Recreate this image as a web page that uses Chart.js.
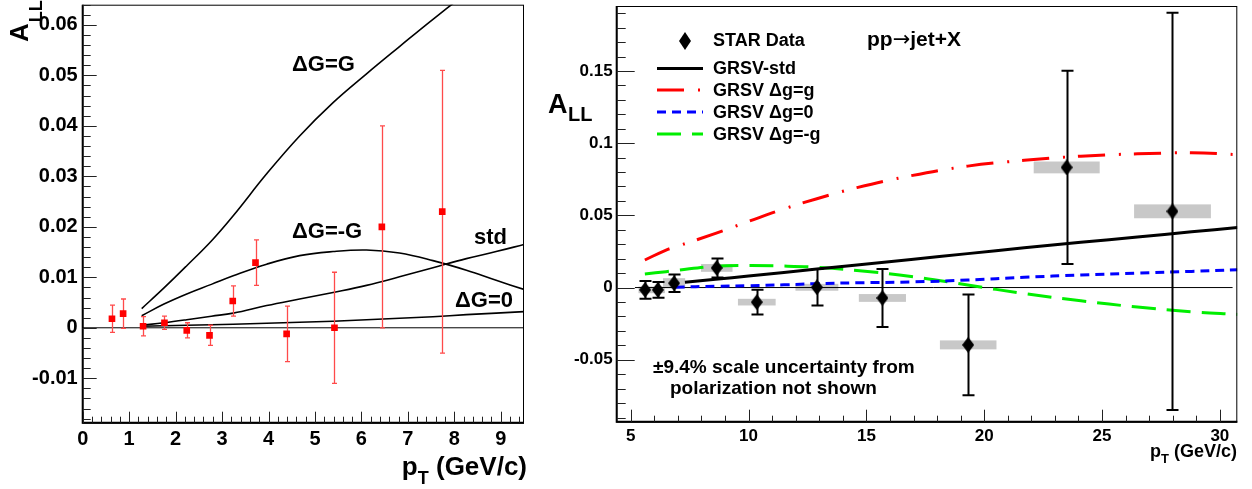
<!DOCTYPE html>
<html>
<head>
<meta charset="utf-8">
<script src="https://cdn.jsdelivr.net/npm/chart.js@4.4.1/dist/chart.umd.min.js"></script>
<style>
body { margin: 0; background: #fff; }
#left { position: absolute; left: 0; top: 0; width: 540px; height: 489px; }
#right { position: absolute; left: 540px; top: 0; width: 712px; height: 489px; }
</style>
</head>
<body>
<div id="left"><canvas id="leftChart"></canvas></div>
<div id="right"><canvas id="rightChart"></canvas></div>
<script>
var FONT = "'Liberation Sans', Arial, sans-serif";

// ---- left panel: A_LL vs pT
var leftPt = [0.63, 0.87, 1.30, 1.76, 2.24, 2.73, 3.23, 3.72, 4.39, 5.42, 6.44, 7.74];
var leftAll = [0.0018, 0.0028, 0.0003, 0.0010, -0.0005, -0.0015, 0.0053, 0.0129, -0.0012, 0.0000, 0.0200, 0.0230];
var leftErr = [0.0027, 0.0029, 0.0019, 0.0013, 0.0015, 0.0020, 0.0030, 0.0045, 0.0055, 0.0110, 0.0200, 0.0280];

var curveX = [1.27, 1.75, 2.24, 2.77, 3.24, 3.96, 4.67, 5.39, 6.11, 6.82, 7.54, 8.26, 8.9, 9.5];
var dgG = [0.0038, 0.0079, 0.0123, 0.0172, 0.0222, 0.0305, 0.0380, 0.0446, 0.0503, 0.0557, 0.0611, 0.0662, 0.0700, 0.0730];
var dgMinusG = [0.0024, 0.0047, 0.0067, 0.0086, 0.0103, 0.0126, 0.0143, 0.0151, 0.0154, 0.0148, 0.0133, 0.0114, 0.0094, 0.0076];
var dgStd = [0.0005, 0.0010, 0.0016, 0.0023, 0.0029, 0.0044, 0.0057, 0.0070, 0.0084, 0.0101, 0.0119, 0.0137, 0.0151, 0.0165];
var dgZero = [0.0003, 0.0004, 0.0005, 0.0006, 0.0007, 0.0009, 0.0011, 0.0013, 0.0016, 0.0019, 0.0022, 0.0026, 0.0029, 0.0032];

var leftXTicks = [0, 1, 2, 3, 4, 5, 6, 7, 8, 9];
var leftYTicks = [-0.01, 0, 0.01, 0.02, 0.03, 0.04, 0.05, 0.06];

// ---- right panel: STAR jets
var starPt = [5.61, 6.15, 6.84, 8.65, 10.35, 12.9, 15.68, 19.32, 23.5, 27.99];
var starAll = [-0.0016, -0.0016, 0.0030, 0.0136, -0.0101, 0.0002, -0.0072, -0.0397, 0.0832, 0.0528];
var starStat = [0.0061, 0.0054, 0.0060, 0.0066, 0.0085, 0.0126, 0.0201, 0.0349, 0.0669, 0.1376];
var starSys = [0.0023, 0.0023, 0.0035, 0.0027, 0.0023, 0.0024, 0.0027, 0.0031, 0.0041, 0.0048];
var starBinHalf = [0.28, 0.30, 0.47, 0.67, 0.80, 0.91, 1.00, 1.20, 1.40, 1.63];

var grsvX = [5.6, 6.5, 6.9, 8.6, 10, 11.5, 12.9, 14.6, 16.9, 19.3, 21.7, 24.1, 26.5, 28.8, 30.75];
var grsvMax = [0.0191, 0.0260, 0.0282, 0.0375, 0.0458, 0.0545, 0.0615, 0.0692, 0.0775, 0.0841, 0.0881, 0.0910, 0.0926, 0.0933, 0.0921];
var grsvZero = [null, null, 0.0003, 0.0009, 0.0013, 0.0019, 0.0027, 0.0033, 0.0039, 0.0052, 0.0071, 0.0087, 0.0100, 0.0112, 0.0124];
var grsvMin = [0.0094, 0.0110, 0.0118, 0.0148, 0.0153, 0.0149, 0.0140, 0.0118, 0.0077, 0.0018, -0.0042, -0.0092, -0.0135, -0.0168, -0.0186];
var grsvStdX = [7.3, 8.6, 10, 11.5, 12.9, 14.6, 16.9, 19.3, 21.7, 24.1, 26.5, 28.8, 30.75];
var grsvStd = [0.0036, 0.0057, 0.0080, 0.0105, 0.0129, 0.0157, 0.0195, 0.0235, 0.0275, 0.0313, 0.0350, 0.0386, 0.0416];

var rightXTicks = [5, 10, 15, 20, 25, 30];
var rightYTicks = [-0.05, 0, 0.05, 0.1, 0.15];

function pts(xs, ys) {
    return xs.map(function (x, i) { return { x: x, y: ys[i] }; });
}
function num(v) { return String(parseFloat(v.toFixed(4))); }

function diamond(w, h) {
    var c = document.createElement('canvas');
    c.width = w; c.height = h;
    var g = c.getContext('2d');
    g.fillStyle = '#000';
    g.beginPath();
    g.moveTo(w / 2, 0); g.lineTo(w, h / 2); g.lineTo(w / 2, h); g.lineTo(0, h / 2);
    g.closePath(); g.fill();
    return c;
}

// ROOT style frame with ticks pointing inside
var rootFrame = {
    id: 'rootFrame',
    afterDatasetsDraw: function (chart, args, o) {
        var ctx = chart.ctx, a = chart.chartArea, xs = chart.scales.x, ys = chart.scales.y;
        ctx.save();
        ctx.strokeStyle = '#000';
        ctx.lineWidth = 1;
        ctx.strokeRect(a.left, a.top + 0.5, a.right - a.left - 0.5, a.bottom - a.top);
        ctx.lineWidth = 2;
        ctx.beginPath();
        ctx.moveTo(a.left, a.top); ctx.lineTo(a.left, a.bottom); ctx.lineTo(a.right, a.bottom);
        ctx.stroke();
        ctx.lineWidth = 1;
        ctx.strokeStyle = '#222';
        ctx.beginPath();
        function yt(step, len) {
            for (var i = Math.ceil(ys.min / step - 1e-6); i * step <= ys.max + 1e-9; i++) {
                var p = Math.round(ys.getPixelForValue(i * step)) + 0.5;
                ctx.moveTo(a.left, p); ctx.lineTo(a.left + len, p);
            }
        }
        function xt(step, len) {
            for (var i = Math.ceil(xs.min / step - 1e-6); i * step <= xs.max + 1e-9; i++) {
                var p = Math.round(xs.getPixelForValue(i * step)) + 0.5;
                ctx.moveTo(p, a.bottom); ctx.lineTo(p, a.bottom - len);
            }
        }
        yt(o.yMinor, o.yMinorLen); yt(o.yMajor, o.yMajorLen);
        xt(o.xMinor, o.xMinorLen); xt(o.xMajor, o.xMajorLen);
        ctx.stroke();
        ctx.restore();
    }
};

// systematic boxes + error bars
var errorBars = {
    id: 'errorBars',
    beforeDatasetsDraw: function (chart) {
        var ctx = chart.ctx, xs = chart.scales.x, ys = chart.scales.y, a = chart.chartArea;
        chart.data.datasets.forEach(function (ds) {
            if (!ds.sysErr) return;
            ctx.save();
            ctx.beginPath(); ctx.rect(a.left, a.top, a.right - a.left, a.bottom - a.top); ctx.clip();
            ctx.fillStyle = '#c8c8c8';
            ds.data.forEach(function (d, i) {
                var x0 = xs.getPixelForValue(d.x - ds.binHalf[i]), x1 = xs.getPixelForValue(d.x + ds.binHalf[i]);
                var y0 = ys.getPixelForValue(d.y + ds.sysErr[i]), y1 = ys.getPixelForValue(d.y - ds.sysErr[i]);
                ctx.fillRect(x0, y0, x1 - x0, y1 - y0);
            });
            ctx.restore();
        });
    },
    beforeDatasetDraw: function (chart, args) {
        var ds = chart.data.datasets[args.index];
        if (!ds.errors) return;
        var ctx = chart.ctx, xs = chart.scales.x, ys = chart.scales.y, a = chart.chartArea;
        ctx.save();
        ctx.beginPath(); ctx.rect(a.left, a.top, a.right - a.left, a.bottom - a.top); ctx.clip();
        ctx.strokeStyle = ds.errorColor;
        ctx.lineWidth = ds.errorWidth;
        ctx.beginPath();
        ds.data.forEach(function (d, i) {
            var px = Math.round(xs.getPixelForValue(d.x)) + 0.5;
            var hi = ys.getPixelForValue(d.y + ds.errors[i]), lo = ys.getPixelForValue(d.y - ds.errors[i]);
            ctx.moveTo(px, hi); ctx.lineTo(px, lo);
            ctx.moveTo(px - ds.capHalf, hi); ctx.lineTo(px + ds.capHalf, hi);
            ctx.moveTo(px - ds.capHalf, lo); ctx.lineTo(px + ds.capHalf, lo);
        });
        ctx.stroke();
        ctx.restore();
    }
};

function curve(xs, ys, color, width, dash) {
    return {
        data: pts(xs, ys), borderColor: color, borderWidth: width, borderDash: dash || [],
        pointRadius: 0, fill: false, tension: 0.4, order: 1
    };
}
function zeroLine(x0, x1) {
    return { data: [{ x: x0, y: 0 }, { x: x1, y: 0 }], borderColor: '#000', borderWidth: 1, pointRadius: 0, order: 2 };
}
function axis(min, max, ticks, size, pad, fixed) {
    return {
        type: 'linear', min: min, max: max,
        grid: { display: false, drawTicks: false }, border: { display: false },
        afterBuildTicks: function (s) { s.ticks = ticks.map(function (v) { return { value: v }; }); },
        ticks: { font: { family: FONT, weight: 'bold', size: size }, color: '#000', padding: pad, callback: num, maxRotation: 0, autoSkip: false },
        afterFit: function (s) {
            if (s.isHorizontal()) s.height = fixed; else s.width = fixed;
            s.paddingTop = 0; s.paddingBottom = 0; s.paddingLeft = 0; s.paddingRight = 0;
        }
    };
}

Chart.defaults.font.family = FONT;

// left chart
var leftText = {
    id: 'leftText',
    afterDraw: function (chart) {
        var ctx = chart.ctx;
        ctx.save();
        ctx.fillStyle = '#000';
        ctx.textAlign = 'left';
        ctx.textBaseline = 'middle';
        ctx.font = 'bold 22px ' + FONT;
        ctx.fillText('\u0394G=G', 292, 65);
        ctx.fillText('\u0394G=-G', 292, 232);
        ctx.fillText('std', 474, 238);
        ctx.fillText('\u0394G=0', 455, 301);
        // y title
        ctx.textBaseline = 'alphabetic';
        ctx.translate(28, 42);
        ctx.rotate(-Math.PI / 2);
        ctx.font = 'bold 26px ' + FONT;
        ctx.fillText('A', 0, 0);
        var w = ctx.measureText('A').width;
        ctx.font = 'bold 18px ' + FONT;
        ctx.fillText('LL', w + 1, 14);
        ctx.setTransform(1, 0, 0, 1, 0, 0);
        // x title
        ctx.font = 'bold 26px ' + FONT;
        var wp = ctx.measureText('p').width, wr = ctx.measureText(' (GeV/c)').width;
        ctx.font = 'bold 18px ' + FONT;
        var wt = ctx.measureText('T').width;
        var x0 = 527 - wp - wt - wr;
        ctx.fillText('T', x0 + wp, 484);
        ctx.font = 'bold 26px ' + FONT;
        ctx.fillText('p', x0, 475);
        ctx.fillText(' (GeV/c)', x0 + wp + wt, 475);
        ctx.restore();
    }
};

new Chart(document.getElementById('leftChart'), {
    type: 'line',
    data: {
        datasets: [
            {
                data: pts(leftPt, leftAll), showLine: false, pointStyle: 'rect', pointRadius: 4.7,
                backgroundColor: '#ff0000', borderWidth: 0, order: 0,
                errors: leftErr, errorColor: '#ff4a4a', errorWidth: 1.3, capHalf: 2.5
            },
            curve(curveX, dgG, '#000', 1.6),
            curve(curveX, dgMinusG, '#000', 1.6),
            curve(curveX, dgStd, '#000', 1.6),
            curve(curveX, dgZero, '#000', 1.6),
            zeroLine(0, 9.5)
        ]
    },
    options: {
        responsive: true,
        maintainAspectRatio: false,
        animation: false,
        events: [],
        layout: { padding: { left: 0, right: 16, top: 2.7, bottom: 0 } },
        plugins: {
            legend: { display: false },
            tooltip: { enabled: false },
            rootFrame: { xMajor: 1, xMinor: 0.2, xMajorLen: 11, xMinorLen: 6, yMajor: 0.01, yMinor: 0.002, yMajorLen: 14, yMinorLen: 8 }
        },
        scales: {
            x: axis(0, 9.5, leftXTicks, 20, 5, 66.3),
            y: axis(-0.0188, 0.064, leftYTicks, 20, 5, 82.7)
        }
    },
    plugins: [errorBars, rootFrame, leftText]
});

// right chart
var legendDiamond = diamond(12, 18);
var rightText = {
    id: 'rightText',
    afterDraw: function (chart) {
        var ctx = chart.ctx, ds = chart.data.datasets;
        ctx.save();
        ctx.fillStyle = '#000';
        ctx.textAlign = 'left';
        ctx.textBaseline = 'middle';
        // legend
        ctx.drawImage(legendDiamond, 145 - 6, 41 - 9);
        ctx.font = 'bold 18px ' + FONT;
        ctx.fillText('STAR Data', 173, 41);
        var rows = [[1, 'GRSV-std', 68.5], [2, 'GRSV \u0394g=g', 90], [3, 'GRSV \u0394g=0', 112], [4, 'GRSV \u0394g=-g', 134]];
        rows.forEach(function (r) {
            var d = ds[r[0]];
            ctx.save();
            ctx.strokeStyle = d.borderColor; ctx.lineWidth = d.borderWidth; ctx.setLineDash(d.borderDash);
            ctx.beginPath(); ctx.moveTo(117, r[2]); ctx.lineTo(163, r[2]); ctx.stroke();
            ctx.restore();
            ctx.fillText(r[1], 173, r[2] + 1);
        });
        // process label, arrow taken from DejaVu for a wider glyph
        var px = 327;
        ctx.font = 'bold 21px ' + FONT;
        ctx.fillText('pp', px, 40);
        px += ctx.measureText('pp').width;
        ctx.font = '21px "DejaVu Sans"';
        ctx.fillText('\u2192', px, 41);
        px += ctx.measureText('\u2192').width;
        ctx.font = 'bold 21px ' + FONT;
        ctx.fillText('jet+X', px, 40);
        ctx.font = 'bold 19px ' + FONT;
        ctx.fillText('\u00b19.4% scale uncertainty from', 113, 368);
        ctx.fillText('polarization not shown', 130, 389);
        // y title
        ctx.textBaseline = 'alphabetic';
        ctx.font = 'bold 27px ' + FONT;
        ctx.fillText('A', 8, 112.7);
        ctx.font = 'bold 20px ' + FONT;
        ctx.fillText('LL', 28, 120.5);
        // x title
        ctx.font = 'bold 18px ' + FONT;
        var wp = ctx.measureText('p').width, wr = ctx.measureText(' (GeV/c)').width;
        ctx.font = 'bold 13px ' + FONT;
        var wt = ctx.measureText('T').width;
        var x0 = 697 - wp - wt - wr;
        ctx.fillText('T', x0 + wp, 463);
        ctx.font = 'bold 18px ' + FONT;
        ctx.fillText('p', x0, 456.7);
        ctx.fillText(' (GeV/c)', x0 + wp + wt, 456.7);
        ctx.restore();
    }
};

new Chart(document.getElementById('rightChart'), {
    type: 'line',
    data: {
        datasets: [
            {
                data: pts(starPt, starAll), showLine: false, pointStyle: diamond(12, 16), pointRadius: 6,
                backgroundColor: '#000', borderWidth: 0, order: 0,
                errors: starStat, errorColor: '#000', errorWidth: 2, capHalf: 6,
                sysErr: starSys, binHalf: starBinHalf
            },
            curve(grsvStdX, grsvStd, '#000', 3),
            curve(grsvX, grsvMax, '#ff0000', 3, [27, 14, 2, 13]),
            curve(grsvX, grsvZero, '#0000ff', 3, [9, 6]),
            curve(grsvX, grsvMin, '#00ee00', 3, [24, 11]),
            zeroLine(5.18, 30.54)
        ]
    },
    options: {
        responsive: true,
        maintainAspectRatio: false,
        animation: false,
        events: [],
        layout: { padding: { left: 0, right: 14.7, top: 4.3, bottom: 0 } },
        plugins: {
            legend: { display: false },
            tooltip: { enabled: false },
            rootFrame: { xMajor: 5, xMinor: 1, xMajorLen: 12, xMinorLen: 6, yMajor: 0.05, yMinor: 0.01, yMajorLen: 18, yMinorLen: 9 }
        },
        scales: {
            x: axis(4.405, 30.74, rightXTicks, 17, 4, 67.3),
            y: axis(-0.0929, 0.195, rightYTicks, 17, 4, 76.7)
        }
    },
    plugins: [errorBars, rootFrame, rightText]
});
</script>
</body>
</html>
